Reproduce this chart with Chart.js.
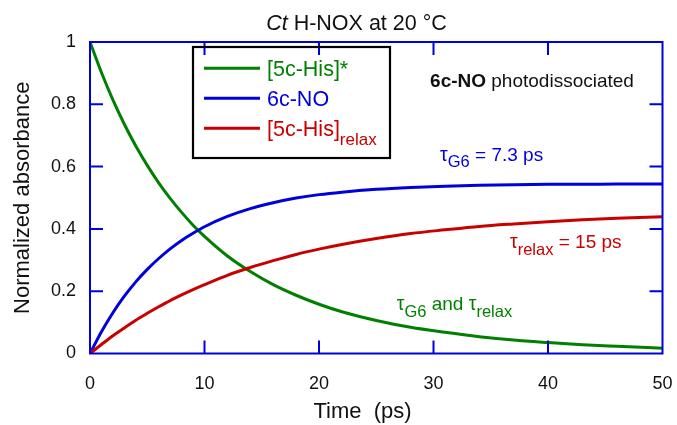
<!DOCTYPE html>
<html>
<head>
<meta charset="utf-8">
<script src="https://cdn.jsdelivr.net/npm/chart.js@4.4.1/dist/chart.umd.min.js"></script>
<style>
  html, body { margin: 0; padding: 0; background: #fff; }
</style>
</head>
<body>
<canvas id="chart" width="677" height="425"></canvas>
<script>
// time axis (ps) and normalized absorbance of each species
const timePs     = [0, 1, 2, 3, 4, 5, 6, 7, 8, 9, 10, 12, 14, 16, 18, 20, 22, 25, 28, 31, 34, 37, 40, 43, 46, 50];
const his5cStar  = [1.0, 0.902, 0.814, 0.736, 0.666, 0.604, 0.548, 0.498, 0.453, 0.412, 0.376, 0.313, 0.263, 0.221, 0.187, 0.158, 0.134, 0.106, 0.084, 0.068, 0.054, 0.043, 0.035, 0.028, 0.023, 0.017];
const no6c       = [0, 0.070, 0.131, 0.184, 0.230, 0.270, 0.305, 0.336, 0.363, 0.386, 0.407, 0.440, 0.465, 0.484, 0.499, 0.510, 0.518, 0.527, 0.533, 0.537, 0.540, 0.542, 0.543, 0.543, 0.544, 0.544];
const his5cRelax = [0, 0.029, 0.057, 0.082, 0.107, 0.129, 0.150, 0.170, 0.188, 0.205, 0.221, 0.251, 0.276, 0.298, 0.318, 0.335, 0.350, 0.369, 0.385, 0.397, 0.408, 0.416, 0.423, 0.429, 0.434, 0.439];

const xTicks = [0, 10, 20, 30, 40, 50];
const yTicks = [0, 0.2, 0.4, 0.6, 0.8, 1];

const seriesNames = ["[5c-His]*", "6c-NO", "[5c-His]"];
const seriesSubs  = ["", "", "relax"];

const GREEN = "#008000";
const BLUE = "#0000dd";
const RED = "#c80000";
const INK = "#111";
const FONT = "'Liberation Sans', Arial, Helvetica, sans-serif";

function pts(ys) {
  return timePs.map((t, i) => ({ x: t, y: ys[i] }));
}

// draws a row of text pieces, each with its own size / offset / style
function drawRuns(ctx, x, y, runs, color, align) {
  ctx.save();
  ctx.fillStyle = color;
  ctx.textBaseline = "alphabetic";
  ctx.textAlign = "left";
  let total = 0;
  runs.forEach(r => {
    ctx.font = `${r.italic ? "italic " : ""}${r.bold ? "bold " : ""}${r.size}px ${FONT}`;
    r.w = ctx.measureText(r.t).width;
    total += r.w;
  });
  let cx = align === "center" ? x - total / 2 : x;
  runs.forEach(r => {
    ctx.font = `${r.italic ? "italic " : ""}${r.bold ? "bold " : ""}${r.size}px ${FONT}`;
    ctx.fillText(r.t, cx, y + (r.dy || 0));
    cx += r.w;
  });
  ctx.restore();
}

const decorations = {
  id: "decorations",
  afterDatasetsDraw(chart) {
    const { ctx, chartArea: a, scales: { x, y } } = chart;

    // frame
    ctx.save();
    ctx.strokeStyle = BLUE;
    ctx.lineWidth = 2;
    ctx.strokeRect(a.left, a.top, a.right - a.left, a.bottom - a.top);

    // inward ticks on all four sides
    const tl = 13;
    ctx.beginPath();
    xTicks.slice(1, -1).forEach(v => {
      const px = x.getPixelForValue(v);
      ctx.moveTo(px, a.bottom); ctx.lineTo(px, a.bottom - tl);
      ctx.moveTo(px, a.top); ctx.lineTo(px, a.top + tl);
    });
    yTicks.slice(1, -1).forEach(v => {
      const py = y.getPixelForValue(v);
      ctx.moveTo(a.left, py); ctx.lineTo(a.left + tl, py);
      ctx.moveTo(a.right, py); ctx.lineTo(a.right - tl, py);
    });
    ctx.stroke();
    ctx.restore();

    // legend box
    const colors = [GREEN, BLUE, RED];
    ctx.save();
    ctx.strokeStyle = "#000";
    ctx.lineWidth = 2.2;
    ctx.strokeRect(193, 47, 197, 111);
    colors.forEach((c, i) => {
      const ly = 68.3 + i * 30;
      ctx.strokeStyle = c;
      ctx.lineWidth = 3;
      ctx.beginPath();
      ctx.moveTo(204, ly);
      ctx.lineTo(260, ly);
      ctx.stroke();
      const runs = [{ t: seriesNames[i], size: 21.5 }];
      if (seriesSubs[i]) runs.push({ t: seriesSubs[i], size: 17, dy: 8.5 });
      drawRuns(ctx, 267, ly + 7.8, runs, c);
    });
    ctx.restore();

    // annotations
    drawRuns(ctx, x.getPixelForValue(29.7), y.getPixelForValue(0.855), [
      { t: "6c-NO", size: 19, bold: true },
      { t: " photodissociated", size: 19 }
    ], INK);
    drawRuns(ctx, x.getPixelForValue(30.57), y.getPixelForValue(0.618), [
      { t: "\u03C4", size: 19.5 },
      { t: "G6", size: 16.5, dy: 6 },
      { t: " = 7.3 ps", size: 19 }
    ], BLUE);
    drawRuns(ctx, x.getPixelForValue(36.68), y.getPixelForValue(0.338), [
      { t: "\u03C4", size: 19.5 },
      { t: "relax", size: 16.5, dy: 6.5 },
      { t: " = 15 ps", size: 19 }
    ], RED);
    drawRuns(ctx, x.getPixelForValue(26.79), y.getPixelForValue(0.140), [
      { t: "\u03C4", size: 19.5 },
      { t: "G6", size: 16.5, dy: 7 },
      { t: " and ", size: 19 },
      { t: "\u03C4", size: 19.5 },
      { t: "relax", size: 16.5, dy: 7 }
    ], GREEN);

    // title
    drawRuns(ctx, 356.5, 30, [
      { t: "Ct", size: 21.5, italic: true },
      { t: " H-NOX at 20 \u00B0C", size: 21.5 }
    ], INK, "center");

    // x axis title
    drawRuns(ctx, 362.5, 417.5, [{ t: "Time  (ps)", size: 22 }], INK, "center");
  }
};

new Chart(document.getElementById("chart"), {
  type: "line",
  data: {
    datasets: [
      { label: seriesNames[0], data: pts(his5cStar), borderColor: GREEN, order: 3 },
      { label: seriesNames[1], data: pts(no6c), borderColor: BLUE, order: 2 },
      { label: seriesNames[2] + seriesSubs[2], data: pts(his5cRelax), borderColor: RED, order: 1 }
    ].map(d => Object.assign(d, {
      borderWidth: 3,
      pointRadius: 0,
      fill: false,
      cubicInterpolationMode: "monotone"
    }))
  },
  options: {
    responsive: false,
    animation: false,
    layout: { padding: { left: 0, top: 42, right: 14.5, bottom: 0 } },
    plugins: {
      legend: { display: false },
      tooltip: { enabled: false },
      title: { display: false }
    },
    scales: {
      x: {
        type: "linear",
        min: 0,
        max: 50,
        afterBuildTicks: s => { s.ticks = xTicks.map(v => ({ value: v })); },
        afterFit: s => {
          s.height = 71.5;
          // labels fit inside the outer padding, keep the plot edges fixed
          s.paddingLeft = 0;
          s.paddingRight = 0;
        },
        grid: { display: false, drawTicks: false },
        border: { display: false },
        ticks: { font: { family: FONT, size: 18 }, color: INK, padding: 20, maxRotation: 0 }
      },
      y: {
        type: "linear",
        min: 0,
        max: 1,
        afterBuildTicks: s => { s.ticks = yTicks.map(v => ({ value: v })); },
        afterFit: s => { s.width = 90; },
        grid: { display: false, drawTicks: false },
        border: { display: false },
        ticks: {
          font: { family: FONT, size: 18 },
          color: INK,
          padding: 14,
          callback: v => String(+v.toFixed(1))
        },
        title: {
          display: true,
          text: "Normalized absorbance",
          color: INK,
          font: { family: FONT, size: 22 },
          padding: { top: 10, bottom: 0 }
        }
      }
    }
  },
  plugins: [decorations]
});
</script>
</body>
</html>
